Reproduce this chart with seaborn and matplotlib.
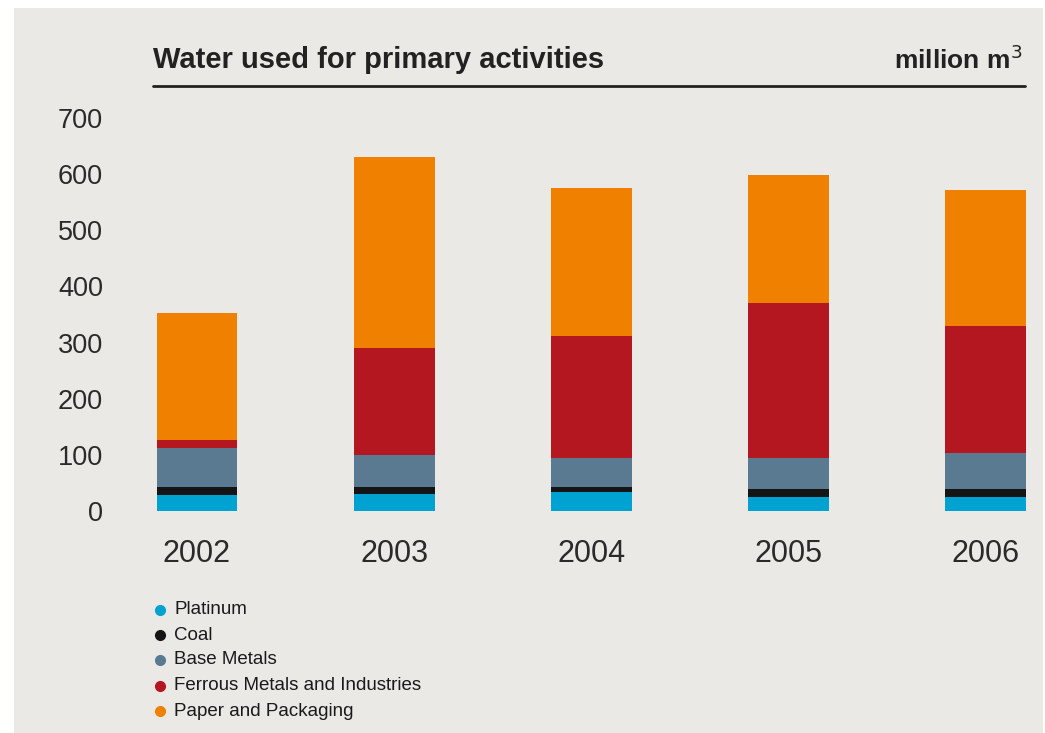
import matplotlib
matplotlib.use("Agg")
import matplotlib.pyplot as plt
from matplotlib.patches import Rectangle
from matplotlib.lines import Line2D
import seaborn as sns
import pandas as pd
import numpy as np

years = ["2002", "2003", "2004", "2005", "2006"]
series = ["Platinum", "Coal", "Base Metals", "Ferrous Metals and Industries", "Paper and Packaging"]
platinum = [29, 30, 33, 25, 25]
coal = [13, 12, 9, 14, 14]
base_metals = [71, 58, 53, 56, 65]
ferrous = [13, 191, 216, 275, 225]
paper = [227, 339, 265, 229, 243]
colors = ["#00a2d1", "#151515", "#5a7a92", "#b51721", "#f08000"]
yticks = [0, 100, 200, 300, 400, 500, 600, 700]

BG = "#ebe9e5"
sns.set_theme(style="white")
plt.rcParams["font.family"] = ["Liberation Sans", "DejaVu Sans"]

W, H = 1045, 733
fig = plt.figure(figsize=(W / 100, H / 100), dpi=100, facecolor="white")
fig.patches.append(Rectangle((14 / W, 0), (1043 - 14) / W, (H - 8) / H,
                             transform=fig.transFigure, facecolor=BG, edgecolor="none", zorder=-10))

ax_left, ax_right = 153 / W, 1026 / W
ax_bottom, ax_top = (H - 511) / H, (H - 118) / H
ax = fig.add_axes([ax_left, ax_bottom, ax_right - ax_left, ax_top - ax_bottom])
ax.patch.set_alpha(0)

vals = [platinum, coal, base_metals, ferrous, paper]
cum = np.cumsum(np.array(vals), axis=0)
# Draw stacked layers: largest cumulative first so smaller ones sit on top
for i in range(len(series) - 1, -1, -1):
    sub = pd.DataFrame({"year": years, "value": cum[i]})
    sns.barplot(data=sub, x="year", y="value", color=colors[i], width=0.41,
                saturation=1, ax=ax, edgecolor="none", linewidth=0, label=series[i])

ax.set_xlim(-0.223, 4.205)
ax.set_ylim(0, 700)
ax.set_yticks(yticks)
ax.set_yticklabels([str(t) for t in yticks])
ax.set_xlabel("")
ax.set_ylabel("")
for s in ax.spines.values():
    s.set_visible(False)
ax.tick_params(axis="y", length=0, pad=36, labelsize=19.5, labelcolor="#2a2a2a")
ax.tick_params(axis="x", length=0, pad=20, labelsize=22, labelcolor="#2a2a2a")
if ax.get_legend():
    ax.get_legend().remove()

# Title area
title_font = ["Liberation Sans", "DejaVu Sans"]
fig.text(153 / W, (H - 60) / H, "Water used for primary activities", ha="left", va="center",
         fontsize=21, fontweight="bold", color="#222222", family=title_font)
fig.text(1022 / W, (H - 60) / H, "million m$^3$", ha="right", va="center",
         fontsize=19, fontweight="bold", color="#222222", family=title_font)
fig.lines.append(Line2D([153 / W, 1025 / W], [(H - 86) / H, (H - 86) / H],
                        transform=fig.transFigure, color="#222222", linewidth=2))

# Legend
leg_y = [610, 635, 660, 686, 711]
for name, c, yy in zip(series, colors, leg_y):
    fig.lines.append(Line2D([160 / W], [(H - yy) / H], transform=fig.transFigure,
                            marker="o", markersize=7, color=c, linestyle="none"))
    fig.text(174 / W, (H - yy) / H, name, ha="left", va="center", fontsize=13.5,
             color="#1a1a1a", family=title_font)

fig.savefig("out.png", dpi=100, facecolor="white")
